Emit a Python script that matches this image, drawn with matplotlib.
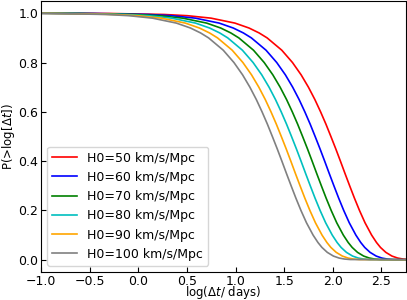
import matplotlib
matplotlib.use('Agg')
import matplotlib.pyplot as plt

# probability levels shared by all curves
p_levels = [1.0, 0.999, 0.995, 0.99, 0.98, 0.96, 0.94, 0.92, 0.90, 0.85, 0.80,
            0.75, 0.70, 0.65, 0.60, 0.55, 0.50, 0.45, 0.40, 0.35, 0.30, 0.25,
            0.20, 0.15, 0.10, 0.07, 0.05, 0.03, 0.015, 0.007, 0.003, 0.001, 0.0]

# log(dt/days) where each curve crosses those levels
x_h50 = [-1.0, -0.299, 0.263, 0.505, 0.748, 0.993, 1.138, 1.242, 1.324, 1.475, 1.585,
         1.674, 1.749, 1.815, 1.874, 1.929, 1.980, 2.030, 2.078, 2.125, 2.173, 2.222,
         2.274, 2.331, 2.399, 2.449, 2.490, 2.545, 2.608, 2.666, 2.721, 2.781, 2.80]
x_h60 = [-1.0, -0.461, 0.101, 0.343, 0.586, 0.831, 0.976, 1.080, 1.162, 1.313, 1.423,
         1.512, 1.587, 1.653, 1.712, 1.767, 1.818, 1.868, 1.916, 1.963, 2.011, 2.060,
         2.112, 2.169, 2.237, 2.287, 2.328, 2.383, 2.446, 2.504, 2.559, 2.619, 2.80]
x_h70 = [-1.0, -0.590, -0.028, 0.214, 0.457, 0.702, 0.847, 0.951, 1.033, 1.184, 1.294,
         1.383, 1.458, 1.524, 1.583, 1.638, 1.689, 1.739, 1.787, 1.834, 1.882, 1.931,
         1.983, 2.040, 2.108, 2.158, 2.199, 2.254, 2.317, 2.375, 2.430, 2.490, 2.80]
x_h80 = [-1.0, -0.704, -0.142, 0.100, 0.343, 0.588, 0.733, 0.837, 0.919, 1.070, 1.180,
         1.269, 1.344, 1.410, 1.469, 1.524, 1.575, 1.625, 1.673, 1.720, 1.768, 1.817,
         1.869, 1.926, 1.994, 2.044, 2.085, 2.140, 2.203, 2.261, 2.316, 2.376, 2.80]
x_h90 = [-1.0, -0.809, -0.247, -0.005, 0.238, 0.483, 0.628, 0.732, 0.814, 0.965, 1.075,
         1.164, 1.239, 1.305, 1.364, 1.419, 1.470, 1.520, 1.568, 1.615, 1.663, 1.712,
         1.764, 1.821, 1.889, 1.939, 1.980, 2.035, 2.098, 2.156, 2.211, 2.271, 2.80]
x_h100 = [-1.0, -0.901, -0.339, -0.097, 0.146, 0.391, 0.536, 0.640, 0.722, 0.873, 0.983,
          1.072, 1.147, 1.213, 1.272, 1.327, 1.378, 1.428, 1.476, 1.523, 1.571, 1.620,
          1.672, 1.729, 1.797, 1.847, 1.888, 1.943, 2.006, 2.064, 2.119, 2.179, 2.80]

curves = [x_h50, x_h60, x_h70, x_h80, x_h90, x_h100]
labels = ['H0=50 km/s/Mpc', 'H0=60 km/s/Mpc', 'H0=70 km/s/Mpc',
          'H0=80 km/s/Mpc', 'H0=90 km/s/Mpc', 'H0=100 km/s/Mpc']
colors = ['red', 'blue', 'green', 'c', 'orange', 'gray']

plt.rcParams['font.size'] = 9

fig = plt.figure(figsize=(4.07, 3.0), dpi=100)
ax = fig.add_axes([0.101, 0.093, 0.896, 0.904])

for xs, lab, col in zip(curves, labels, colors):
    ax.plot(xs, p_levels, color=col, lw=1.2, label=lab)

ax.set_xlim(-1.0, 2.75)
ax.set_ylim(-0.05, 1.05)
ax.set_xticks([-1.0, -0.5, 0.0, 0.5, 1.0, 1.5, 2.0, 2.5])
ax.set_yticks([0.0, 0.2, 0.4, 0.6, 0.8, 1.0])
ax.tick_params(direction='in', pad=2)
ax.set_xlabel(r'log($\Delta t$/ days)', fontsize=8.5, labelpad=-2.5)
ax.set_ylabel(r'P(>log[$\Delta t$])', fontsize=8.5, labelpad=1)
ax.legend(loc='lower left')

fig.savefig('out.png', dpi=100)
